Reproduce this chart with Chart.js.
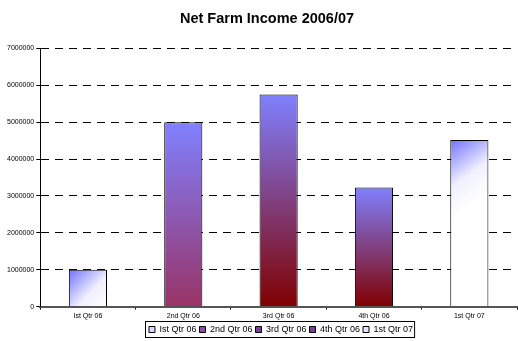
<!DOCTYPE html>
<html>
<head>
<meta charset="utf-8">
<script src="https://cdn.jsdelivr.net/npm/chart.js@4/dist/chart.umd.min.js"></script>
<style>
  body { margin: 0; background: #fff; }
  #wrap { width: 518px; height: 341px; }
</style>
</head>
<body>
<div id="wrap"><canvas id="incomeChart" width="518" height="341"></canvas></div>
<script>
// Net Farm Income by quarter
const quarters = ["Ist Qtr 06", "2nd Qtr 06", "3rd Qtr 06", "4th Qtr 06", "1st Qtr 07"];
const income = [1000000, 5000000, 5750000, 3230000, 4520000];
const yTicks = [0, 1000000, 2000000, 3000000, 4000000, 5000000, 6000000, 7000000];

// fill style per bar: "corner" = blue corner fading to white, otherwise blue top -> bottom colour
const fillKinds = ["corner", "#993366", "#800000", "#800000", "corner"];
const legendSwatch = ["#d8d8ff", "#8a4fa8", "#7a3f9a", "#7a3f9a", "#e4e4ff"];

function barFill(context) {
  const chart = context.chart;
  const i = context.dataIndex;
  const x = chart.scales.x, y = chart.scales.y;
  if (!x || !y || i === undefined || !chart.chartArea) return "#8080ff";
  const ctx = chart.ctx;
  const cx = x.getPixelForValue(i);
  const w = 38;
  const top = y.getPixelForValue(income[i]);
  const bottom = y.getPixelForValue(0);
  let g;
  if (fillKinds[i] === "corner") {
    const h = bottom - top;
    g = ctx.createLinearGradient(cx - w / 2, top, cx + w / 2, top + Math.min(h, w * 1.4));
    g.addColorStop(0, "#7070ff");
    g.addColorStop(0.6, "#f0f0ff");
    g.addColorStop(1, "#ffffff");
  } else {
    g = ctx.createLinearGradient(0, top, 0, bottom);
    g.addColorStop(0, "#8080ff");
    g.addColorStop(1, fillKinds[i]);
  }
  return g;
}

// nudges the legend and title right like the original, then frames the legend
const legendFrame = {
  id: "legendFrame",
  afterLayout(chart) {
    const lg = chart.legend;
    lg.left += 20; lg.right += 20;
    lg.legendHitBoxes.forEach(h => { h.left += 20; });
    const t = chart.titleBlock;
    if (t) { t.left += 6; t.right += 6; }
  },
  afterDraw(chart) {
    const boxes = chart.legend.legendHitBoxes;
    if (!boxes || !boxes.length) return;
    let l = Infinity, r = -Infinity, t = Infinity, b = -Infinity;
    boxes.forEach(h => {
      l = Math.min(l, h.left); r = Math.max(r, h.left + h.width);
      t = Math.min(t, h.top); b = Math.max(b, h.top + h.height);
    });
    const ctx = chart.ctx;
    ctx.save();
    ctx.strokeStyle = "#000";
    ctx.lineWidth = 1;
    ctx.strokeRect(Math.round(l) - 3.5, Math.round(t) - 3.5, r - l + 5, b - t + 7);
    ctx.restore();
  }
};

new Chart(document.getElementById("incomeChart").getContext("2d"), {
  type: "bar",
  data: {
    labels: quarters,
    datasets: [
      {
        label: "Net Farm Income",
        data: income,
        backgroundColor: barFill,
        borderColor: "#000",
        borderWidth: 1,
        barPercentage: 0.8,
        categoryPercentage: 0.5,
      },
    ],
  },
  options: {
    responsive: false,
    animation: false,
    layout: { padding: { left: 5, right: 1, top: 0, bottom: -3 } },
    scales: {
      x: {
        offset: true,
        grid: { drawOnChartArea: false, drawTicks: true, tickLength: 3, color: "#000", offset: true },
        border: { color: "#555", width: 2 },
        ticks: { color: "#000", font: { family: "Arial, 'Liberation Sans'", size: 7 }, maxRotation: 0, padding: 2 },
      },
      y: {
        min: 0,
        max: 7000000,
        afterBuildTicks: (axis) => { axis.ticks = yTicks.map(v => ({ value: v })); },
        grid: { color: "#000", tickLength: 4, tickColor: "#000" },
        border: { color: "#000", width: 1, dash: [8, 6] },
        ticks: { color: "#000", font: { family: "Arial, 'Liberation Sans'", size: 7 }, padding: 2, callback: (v) => String(v) },
      },
    },
    plugins: {
      title: {
        display: true,
        text: "Net Farm Income 2006/07",
        color: "#000",
        font: { family: "Arial, 'Liberation Sans'", size: 14.5, weight: "bold" },
        padding: { top: 10, bottom: 21 },
      },
      legend: {
        display: true,
        position: "bottom",
        labels: {
          color: "#000",
          boxWidth: 6,
          boxHeight: 6,
          padding: 3,
          font: { family: "Arial, 'Liberation Sans'", size: 9 },
          generateLabels: () => quarters.map((q, i) => ({
            text: q,
            fillStyle: legendSwatch[i],
            strokeStyle: "#000",
            lineWidth: 1,
            index: i,
          })),
        },
      },
      tooltip: { enabled: false },
    },
  },
  plugins: [legendFrame],
});
</script>
</body>
</html>
